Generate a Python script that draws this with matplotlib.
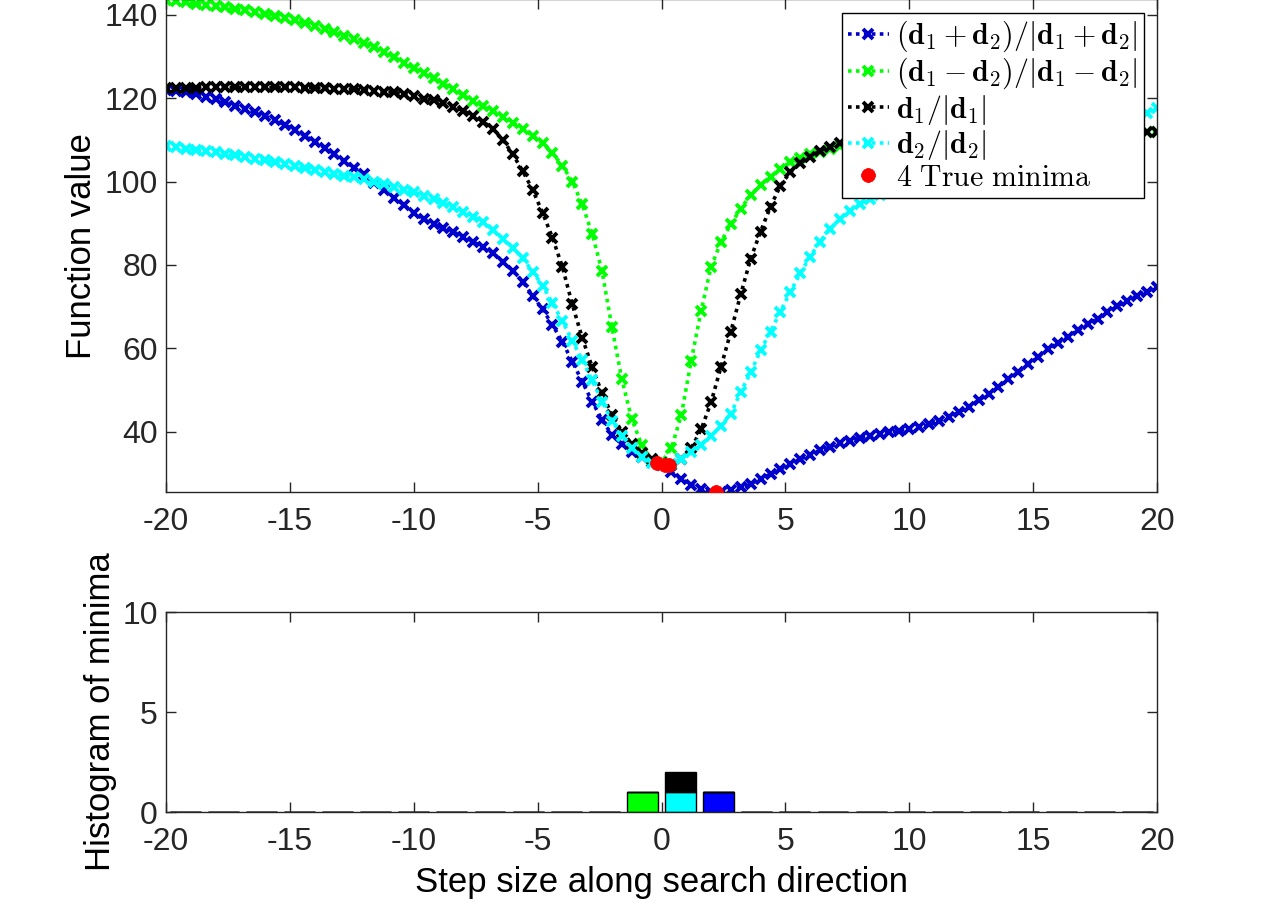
import numpy as np
import matplotlib
matplotlib.use("Agg")
import matplotlib.pyplot as plt

plt.rcParams['font.family'] = ['Liberation Sans', 'DejaVu Sans']
plt.rcParams['mathtext.fontset'] = 'cm'
plt.rcParams['axes.unicode_minus'] = False

# ---------------- data ----------------
steps = np.linspace(-20, 20, 101)

f_sum = [122.0, 121.8, 121.4, 120.9, 120.3, 119.8, 119.0, 118.2, 117.4, 116.6,
         115.7, 114.7, 113.6, 112.4, 111.0, 109.6, 108.1, 106.5, 104.9, 103.3,
         101.7, 99.6, 97.9, 96.1, 94.4, 92.5, 90.9, 89.8, 88.8, 87.9,
         86.8, 85.6, 84.2, 82.9, 80.6, 78.6, 76.0, 72.6, 69.3, 65.6,
         61.5, 56.8, 52.0, 47.2, 42.8, 39.2, 36.9, 35.2, 33.8, 32.6,
         31.9, 30.3, 28.6, 27.2, 26.2, 25.6, 25.5, 26.0, 26.6, 27.5,
         28.6, 29.8, 31.0, 32.1, 33.4, 34.4, 35.5, 36.4, 37.2, 37.8,
         38.4, 39.0, 39.5, 39.9, 40.2, 40.6, 41.0, 41.7, 42.5, 43.5,
         44.6, 46.0, 47.5, 49.0, 50.7, 52.5, 54.3, 56.1, 57.9, 59.7,
         61.3, 62.8, 64.3, 65.7, 67.1, 68.6, 70.1, 71.4, 72.6, 73.6,
         74.6]

f_diff = [143.6, 143.3, 143.0, 142.7, 142.4, 142.1, 141.8, 141.5, 141.1, 140.7,
          140.3, 139.8, 139.3, 138.7, 138.1, 137.4, 136.6, 135.8, 135.0, 134.1,
          133.3, 132.3, 131.2, 129.9, 128.5, 127.2, 126.0, 124.8, 123.5, 122.1,
          120.7, 119.4, 118.1, 116.9, 115.6, 114.1, 112.6, 111.0, 109.2, 106.8,
          103.8, 100.0, 94.5, 87.5, 78.5, 65.0, 52.5, 43.0, 36.8, 33.2,
          32.6, 36.0, 44.0, 57.0, 69.0, 79.5, 85.5, 89.8, 93.5, 96.8,
          99.2, 101.2, 103.0, 104.7, 105.6, 106.5, 107.2, 107.9, 108.5, 109.0,
          109.5, 109.9, 110.2, 110.5, 110.7, 110.9, 111.0, 111.1, 111.2, 111.2,
          111.3, 111.3, 111.4, 111.4, 111.5, 111.5, 111.6, 111.6, 111.6, 111.7,
          111.7, 111.7, 111.8, 111.8, 111.8, 111.9, 111.9, 111.9, 112.0, 112.0,
          112.0]

f_d1 = [122.4, 122.5, 122.5, 122.5, 122.6, 122.6, 122.6, 122.6, 122.6, 122.6,
        122.6, 122.6, 122.6, 122.6, 122.5, 122.5, 122.4, 122.3, 122.2, 122.1,
        122.0, 121.8, 121.6, 121.4, 121.0, 120.5, 119.9, 119.5, 118.9, 118.0,
        117.0, 115.8, 114.4, 112.6, 110.0, 106.5, 102.5, 98.0, 92.5, 86.5,
        79.5, 70.5, 62.5, 55.5, 49.2, 44.0, 40.0, 37.0, 34.8, 33.3,
        32.4, 32.0, 33.5, 36.0, 40.5, 47.0, 55.5, 64.0, 73.0, 81.5,
        88.0, 94.0, 99.0, 102.3, 104.4, 106.0, 107.4, 108.4, 109.3, 110.0,
        110.5, 110.9, 111.1, 111.3, 111.4, 111.5, 111.5, 111.6, 111.6, 111.6,
        111.7, 111.7, 111.7, 111.7, 111.8, 111.8, 111.8, 111.8, 111.8, 111.9,
        111.9, 111.9, 111.9, 111.9, 111.9, 112.0, 112.0, 112.0, 112.0, 112.0,
        112.0]

f_d2 = [108.5, 108.2, 107.9, 107.6, 107.3, 107.0, 106.7, 106.3, 105.9, 105.5,
        105.1, 104.7, 104.2, 103.7, 103.3, 102.8, 102.3, 101.8, 101.4, 101.0,
        100.5, 99.9, 99.3, 98.7, 98.0, 97.4, 96.6, 95.8, 94.8, 93.8,
        92.8, 91.6, 90.2, 88.4, 86.2, 84.0, 81.6, 78.4, 75.0, 70.8,
        66.5, 61.8, 57.2, 52.3, 47.2, 42.6, 39.0, 36.0, 33.8, 32.5,
        32.0, 32.2, 33.5, 35.0, 36.8, 38.9, 41.3, 44.3, 49.5, 54.2,
        59.5, 64.0, 68.8, 73.5, 78.0, 82.0, 85.6, 88.6, 90.9, 92.9,
        94.5, 95.7, 96.8, 97.6, 98.3, 99.0, 99.6, 100.2, 100.8, 101.4,
        102.0, 102.6, 103.2, 103.8, 104.5, 105.2, 105.9, 106.6, 107.3, 108.0,
        108.8, 109.6, 110.4, 111.2, 112.0, 112.8, 113.6, 114.4, 115.3, 116.4,
        117.6]

# true minima (step, value) for: d1-d2, d2, d1, d1+d2
min_steps = [-0.2, 0.15, 0.3, 2.2]
min_vals = [32.4, 31.9, 32.0, 25.5]

hist_edges = np.linspace(-20, 20, 27)
min_sum = [2.2]
min_diff = [-0.2]
min_d1 = [0.3]
min_d2 = [0.15]

labels = [r'$(\mathbf{d}_1+\mathbf{d}_2)/|\mathbf{d}_1+\mathbf{d}_2|$',
          r'$(\mathbf{d}_1-\mathbf{d}_2)/|\mathbf{d}_1-\mathbf{d}_2|$',
          r'$\mathbf{d}_1/|\mathbf{d}_1|$',
          r'$\mathbf{d}_2/|\mathbf{d}_2|$',
          r'$\mathrm{4\ True\ minima}$']

c_blue = '#0000cc'
c_green = '#00ff00'
c_black = '#000000'
c_cyan = '#00ffff'

# ---------------- figure ----------------
fig = plt.figure(figsize=(12.8, 9.07), dpi=100)
ax1 = fig.add_axes([0.1297, 0.4576, 0.7742, 0.5430])
ax2 = fig.add_axes([0.1297, 0.1047, 0.7742, 0.2205])

lkw = dict(linestyle=(0, (1, 1.2)), linewidth=2.6, marker='x', markersize=7,
           markeredgewidth=2.8)
ax1.plot(steps, f_sum, color=c_blue, label=labels[0], **lkw)
ax1.plot(steps, f_diff, color=c_green, label=labels[1], **lkw)
ax1.plot(steps, f_d1, color=c_black, label=labels[2], **lkw)
ax1.plot(steps, f_d2, color=c_cyan, label=labels[3], **lkw)
ax1.plot(min_steps, min_vals, linestyle='none', marker=(8, 2, 0), markersize=10,
         markeredgewidth=3, color='#ff0000', label=labels[4], zorder=5)

ax1.set_xlim(-20, 20)
ax1.set_ylim(25.5, 143.7)
ax1.set_xticks(np.arange(-20, 21, 5))
ax1.set_yticks([40, 60, 80, 100, 120, 140])
ax1.set_ylabel('Function value', fontsize=25)
ax1.yaxis.set_label_coords(-0.069, 0.5)

leg = ax1.legend(loc='upper right', fontsize=21.5, numpoints=1, handlelength=1.35,
                 handletextpad=0.25, labelspacing=0.05, borderpad=0.2,
                 borderaxespad=0.45, fancybox=False, framealpha=1,
                 edgecolor='black')
leg.get_frame().set_linewidth(1.0)

# histogram (stacked)
cnt_sum, _ = np.histogram(min_sum, bins=hist_edges)
cnt_diff, _ = np.histogram(min_diff, bins=hist_edges)
cnt_d1, _ = np.histogram(min_d1, bins=hist_edges)
cnt_d2, _ = np.histogram(min_d2, bins=hist_edges)
centers = 0.5 * (hist_edges[:-1] + hist_edges[1:])
bw = 0.81 * (hist_edges[1] - hist_edges[0])
bkw = dict(width=bw, edgecolor='black', linewidth=1.0)
ax2.bar(centers, cnt_sum, color='#0000ff', **bkw)
ax2.bar(centers, cnt_diff, bottom=cnt_sum, color=c_green, **bkw)
ax2.bar(centers, cnt_d2, bottom=cnt_sum + cnt_diff, color=c_cyan, **bkw)
ax2.bar(centers, cnt_d1, bottom=cnt_sum + cnt_diff + cnt_d2, color=c_black, **bkw)

ax2.set_xlim(-20, 20)
ax2.set_ylim(0, 10)
ax2.set_xticks(np.arange(-20, 21, 5))
ax2.set_yticks([0, 5, 10])
ax2.set_ylabel('Histogram of minima', fontsize=25)
ax2.yaxis.set_label_coords(-0.049, 0.5)
ax2.set_xlabel('Step size along search direction', fontsize=25)
ax2.xaxis.set_label_coords(0.5, -0.27)

for ax in (ax1, ax2):
    ax.tick_params(direction='in', length=7, width=1.0, top=True, right=True,
                   labelsize=23, colors='#262626')
    ax.tick_params(axis='x', pad=11)
    ax.tick_params(axis='y', pad=6)
    for s in ax.spines.values():
        s.set_linewidth(1.0)
        s.set_color('#262626')

fig.savefig('out.png', dpi=100)
